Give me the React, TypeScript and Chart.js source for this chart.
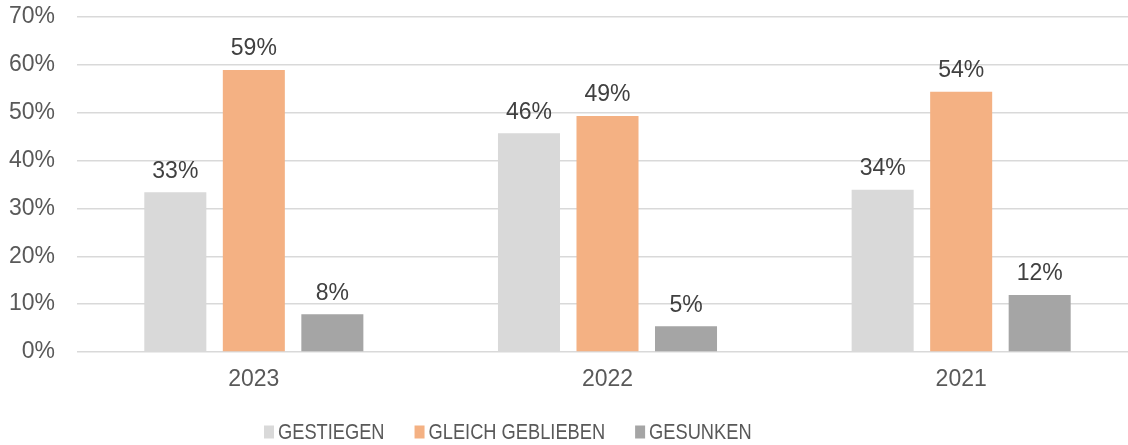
import React, { useEffect, useRef } from "react";
import { Chart, registerables } from "chart.js";

Chart.register(...registerables);

const categories = ["2023", "2022", "2021"];
const seriesNames = ["GESTIEGEN", "GLEICH GEBLIEBEN", "GESUNKEN"];
const gestiegen = [33.4, 45.7, 33.9];
const gleichGeblieben = [58.9, 49.3, 54.4];
const gesunken = [7.9, 5.4, 11.9];
const seriesColors = ["#d9d9d9", "#f4b183", "#a5a5a5"];
const yTicks = [0, 10, 20, 30, 40, 50, 60, 70];

const FONT = "'Liberation Sans', Arial, sans-serif";

const labelPlugin = {
  id: "barLabels",
  afterDatasetsDraw(chart: any) {
    const ctx = chart.ctx;
    ctx.save();
    ctx.font = `23px ${FONT}`;
    ctx.fillStyle = "#404040";
    ctx.textAlign = "center";
    ctx.textBaseline = "middle";
    chart.data.datasets.forEach((ds: any, i: number) => {
      const meta = chart.getDatasetMeta(i);
      meta.data.forEach((el: any, j: number) => {
        const v = ds.data[j];
        ctx.fillText(`${Math.round(v)}%`, el.x, el.y - 21);
      });
    });
    ctx.restore();
  },
};

const legendPlugin = {
  id: "customLegend",
  afterDraw(chart: any) {
    const ctx = chart.ctx;
    ctx.save();
    ctx.font = `22px ${FONT}`;
    ctx.textBaseline = "middle";
    ctx.textAlign = "left";
    const squeeze = 0.83;
    const cy = 432;
    let x = 264;
    chart.data.datasets.forEach((ds: any) => {
      ctx.fillStyle = ds.backgroundColor;
      ctx.fillRect(x, cy - 6.5, 10, 13);
      x += 14;
      ctx.fillStyle = "#595959";
      ctx.save();
      ctx.translate(x, cy + 1);
      ctx.scale(squeeze, 1);
      ctx.fillText(ds.label, 0, 0);
      ctx.restore();
      x += ctx.measureText(ds.label).width * squeeze + 30;
    });
    ctx.restore();
  },
};

export default function App() {
  const ref = useRef<HTMLCanvasElement>(null);
  useEffect(() => {
    document.body.style.margin = "0";
    document.body.style.overflow = "hidden";
    const chart = new Chart(ref.current!, {
      type: "bar",
      data: {
        labels: categories,
        datasets: [gestiegen, gleichGeblieben, gesunken].map((d, i) => ({
          label: seriesNames[i],
          data: d,
          backgroundColor: seriesColors[i],
          borderWidth: 0,
          categoryPercentage: 0.666,
          barPercentage: 0.79,
        })),
      },
      options: {
        responsive: false,
        animation: false,
        devicePixelRatio: 1,
        layout: { padding: { top: 17, left: 0, right: 0, bottom: 0 } },
        plugins: {
          tooltip: { enabled: false },
          legend: { display: false },
        },
        scales: {
          x: {
            grid: { display: false, drawTicks: false },
            border: { display: false },
            afterFit: (s: any) => {
              s.height = 93;
              s.paddingLeft = 0;
              s.paddingRight = 0;
            },
            ticks: {
              font: { family: FONT, size: 23 },
              color: "#595959",
              padding: 14,
            },
          },
          y: {
            min: 0,
            max: 70,
            afterFit: (s: any) => {
              s.width = 77;
              s.paddingTop = 0;
              s.paddingBottom = 0;
            },
            afterBuildTicks: (s: any) => {
              s.ticks = yTicks.map((v) => ({ value: v }));
            },
            grid: { color: "#d9d9d9", lineWidth: 1.5, drawTicks: false },
            border: { display: false },
            ticks: {
              font: { family: FONT, size: 23 },
              color: "#595959",
              padding: 22,
              callback: (v: any) => `${v}%`,
            },
          },
        },
      },
      plugins: [labelPlugin, legendPlugin],
    });
    return () => chart.destroy();
  }, []);
  return (
    <div style={{ position: "relative", width: 1128, height: 445, overflow: "hidden" }}>
      <canvas ref={ref} width={1138} height={445} style={{ position: "absolute", left: 0, top: 0 }} />
    </div>
  );
}
